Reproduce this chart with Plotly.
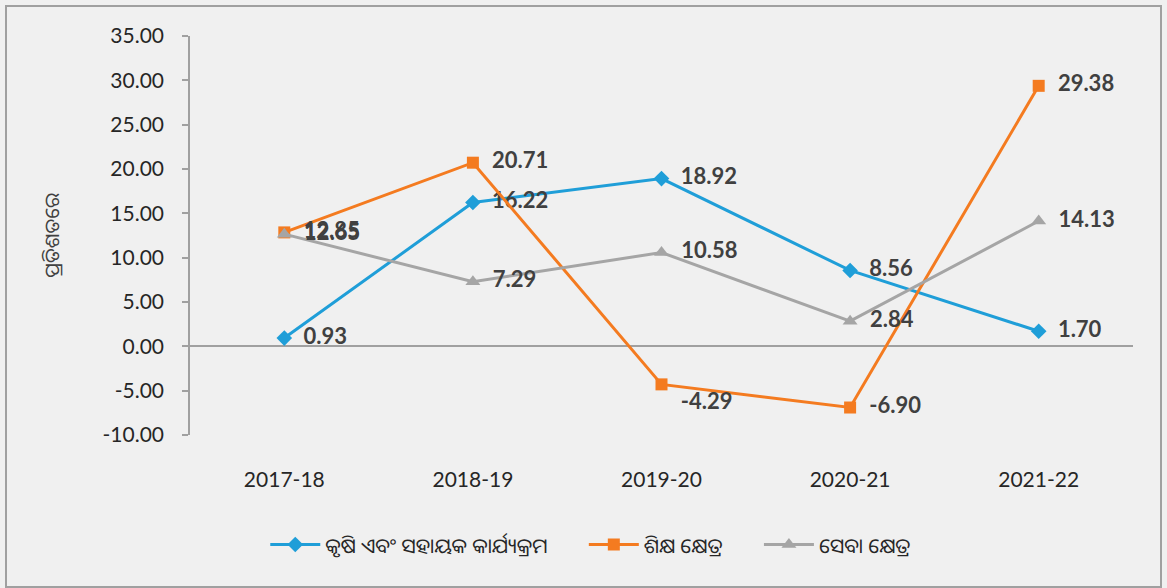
import plotly.graph_objects as go

years = ["2017-18", "2018-19", "2019-20", "2020-21", "2021-22"]
agri = [0.93, 16.22, 18.92, 8.56, 1.70]
edu = [12.85, 20.71, -4.29, -6.90, 29.38]
serv = [12.65, 7.29, 10.58, 2.84, 14.13]
names = ["କୃଷି ଏବଂ ସହାୟକ କାର୍ଯ୍ୟକ୍ରମ", "ଶିକ୍ଷ କ୍ଷେତ୍ର", "ସେବା କ୍ଷେତ୍ର"]
y_title = "ପ୍ରତିଶତରେ"
y_ticks = [35, 30, 25, 20, 15, 10, 5, 0, -5, -10]
y_ticktext = ["35.00", "30.00", "25.00", "20.00", "15.00", "10.00", "5.00", "0.00", "-5.00", "-10.00"]

FONT = "Lato, 'Noto Sans', 'Noto Sans Oriya', sans-serif"
lblfont = dict(family=FONT, size=22, color="#404040", weight="bold")

fig = go.Figure()
series = [
    (agri, names[0], "#1f9ed8", "diamond", 12, ["middle right"] * 5, True),
    (edu, names[1], "#f47b20", "square", 12, ["middle right", "middle right", "bottom right", "middle right", "middle right"], True),
    (serv, names[2], "#a5a5a5", "triangle-up", 13, ["middle right"] * 5, False),
]
for vals, nm, col, sym, sz, tp, pad in series:
    fig.add_trace(go.Scatter(
        x=years, y=vals, name=nm + ("\u00a0" * 6 if pad else ""), mode="lines+markers+text",
        line=dict(color=col, width=3),
        marker=dict(symbol=sym, size=sz, color=col),
        text=[f"\u00a0\u00a0{v:.2f}" for v in vals], textposition=tp,
        textfont=lblfont, cliponaxis=False,
    ))

fig.update_layout(
    width=1167, height=588,
    paper_bgcolor="#f0f0f0", plot_bgcolor="#f0f0f0",
    margin=dict(l=190, r=34, t=36, b=153),
    font=dict(family=FONT, size=21, color="#262626"),
    showlegend=True,
    legend=dict(orientation="h", x=0.425, xanchor="center", y=-0.275, yanchor="middle",
                font=dict(size=20.5, color="#262626"), bgcolor="rgba(0,0,0,0)",
                itemwidth=50, traceorder="normal"),
    xaxis=dict(showgrid=False, showline=False, zeroline=False, ticks="",
               tickfont=dict(size=21, color="#262626"), ticklabelstandoff=30,
               range=[-0.5, 4.5]),
    yaxis=dict(range=[-10, 35], tickvals=y_ticks, ticktext=y_ticktext,
               showgrid=False, showline=True, linecolor="#a0a0a0", linewidth=1.5,
               ticks="outside", ticklen=6, tickcolor="#a0a0a0", tickwidth=1.5,
               zeroline=True, zerolinecolor="#a0a0a0", zerolinewidth=1.5,
               tickfont=dict(size=21, color="#262626"), ticklabelstandoff=14,
               title=dict(text=y_title, font=dict(size=20, color="#404040"), standoff=38)),
    shapes=[dict(type="rect", xref="paper", yref="paper",
                 x0=(6 - 190) / 943, x1=(1161 - 190) / 943,
                 y0=(435 - 587) / 399, y1=(435 - 6) / 399,
                 line=dict(color="#a0a0a0", width=2), fillcolor="rgba(0,0,0,0)", layer="below")],
)

fig.write_html("out.html", config={"displayModeBar": False},
               post_script="document.body.style.margin='0px';document.body.style.background='#ffffff';")
